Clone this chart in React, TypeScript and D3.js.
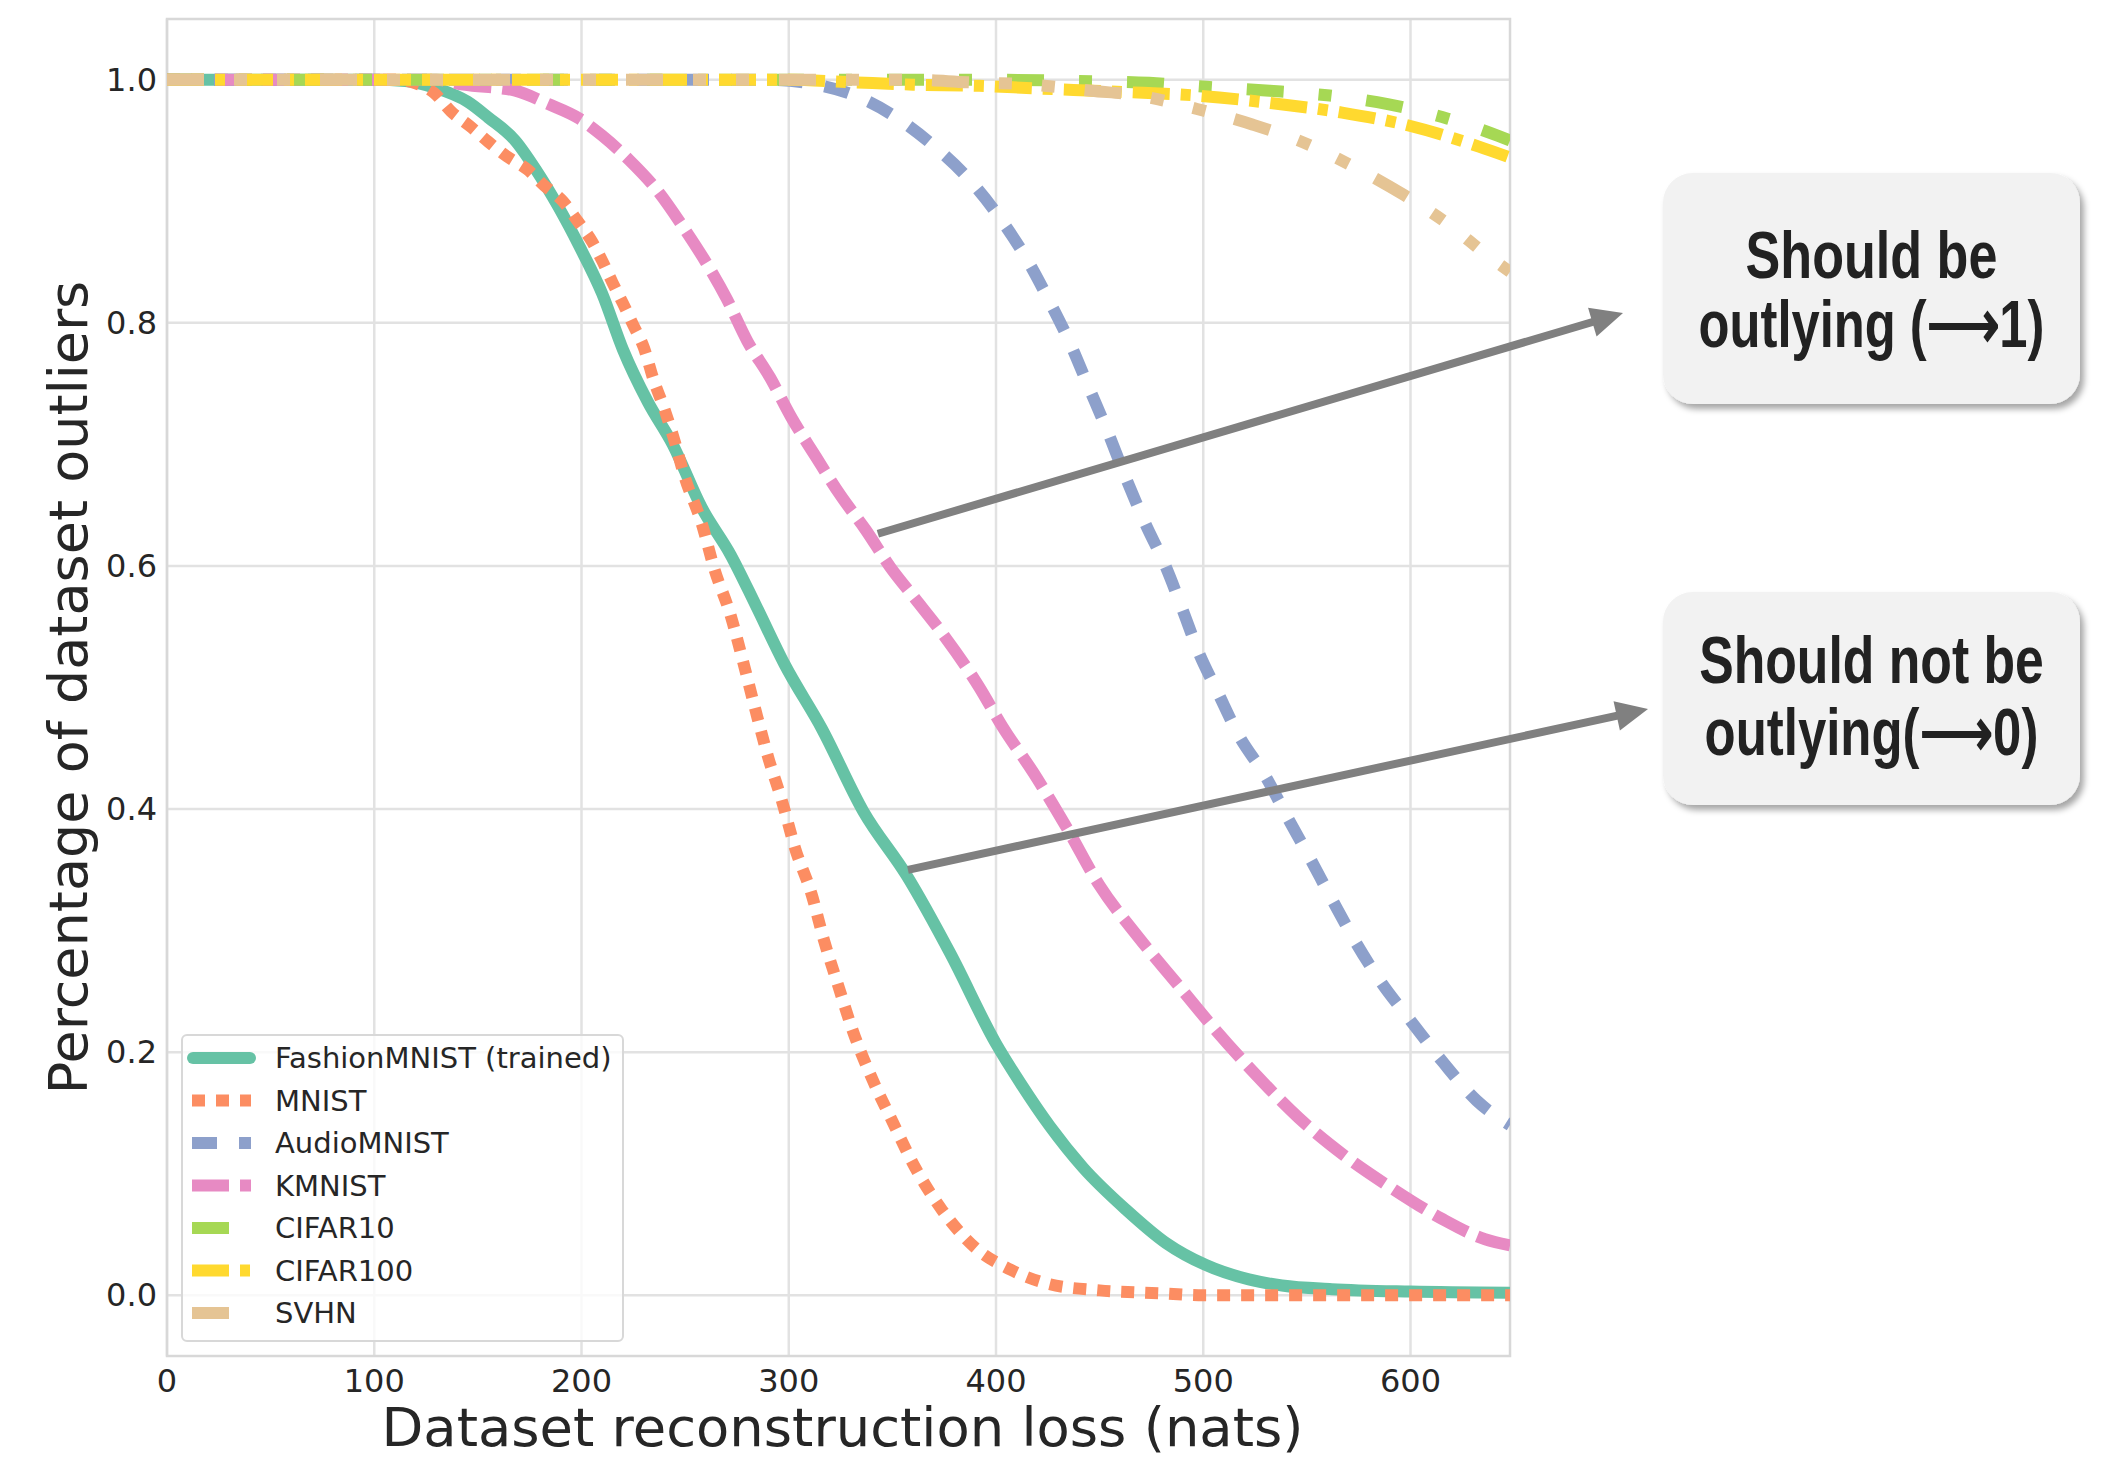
import React from "react";
import * as d3 from "d3";

// curves: [reconstruction loss, fraction of outliers]
const fashionMnist = [
  [0, 1], [100, 1], [115, 0.999], [130, 0.993], [145, 0.982], [155, 0.969], [168, 0.95], [178, 0.926],
  [189, 0.895], [199, 0.863], [210, 0.824], [220, 0.778], [232, 0.735], [244, 0.7], [258, 0.648],
  [272, 0.609], [284, 0.568], [298, 0.519], [316, 0.466], [336, 0.398], [357, 0.345], [378, 0.281],
  [400, 0.207], [412, 0.174], [426, 0.139], [442, 0.105], [463, 0.07], [482, 0.043], [501, 0.025],
  [522, 0.013], [538, 0.008], [562, 0.005], [600, 0.003], [648, 0.002],
];
const mnist = [
  [0, 1], [110, 1], [120, 0.997], [129, 0.989], [137, 0.974], [146, 0.962], [155, 0.949], [164, 0.937],
  [174, 0.926], [182, 0.913], [191, 0.9], [198, 0.884], [205, 0.867], [210, 0.851], [215, 0.833],
  [220, 0.816], [225, 0.798], [230, 0.78], [235, 0.752], [240, 0.729], [244, 0.708], [250, 0.672],
  [258, 0.635], [264, 0.598], [272, 0.559], [278, 0.521], [284, 0.481], [290, 0.443], [297, 0.405],
  [303, 0.368], [311, 0.33], [317, 0.292], [324, 0.254], [331, 0.217], [340, 0.179], [350, 0.143],
  [361, 0.105], [374, 0.07], [390, 0.039], [407, 0.021], [426, 0.009], [450, 0.004], [479, 0.0016],
  [500, 0], [648, 0],
];
const audioMnist = [
  [0, 1], [290, 1], [310, 0.997], [332, 0.987], [351, 0.97], [369, 0.947], [387, 0.918], [402, 0.886],
  [415, 0.852], [426, 0.817], [435, 0.786], [445, 0.746], [454, 0.71], [463, 0.671], [472, 0.635],
  [482, 0.599], [490, 0.564], [498, 0.528], [507, 0.496], [517, 0.461], [530, 0.427], [541, 0.392],
  [551, 0.361], [562, 0.326], [573, 0.292], [586, 0.257], [600, 0.226], [616, 0.191], [632, 0.16],
  [648, 0.14],
];
const kmnist = [
  [0, 1], [130, 1], [143, 0.996], [168, 0.991], [184, 0.98], [199, 0.968], [210, 0.954], [223, 0.934],
  [237, 0.908], [249, 0.879], [260, 0.85], [270, 0.82], [280, 0.785], [291, 0.755], [301, 0.723],
  [313, 0.69], [325, 0.658], [337, 0.63], [349, 0.599], [361, 0.573], [373, 0.547], [392, 0.5],
  [403, 0.468], [418, 0.43], [434, 0.385], [450, 0.337], [469, 0.294], [487, 0.257], [504, 0.222],
  [524, 0.184], [546, 0.146], [568, 0.115], [591, 0.088], [615, 0.063], [636, 0.046], [648, 0.041],
];
const cifar10 = [
  [0, 1], [400, 1], [440, 0.999], [474, 0.9975], [503, 0.994], [532, 0.991], [561, 0.987],
  [589, 0.98], [618, 0.968], [642, 0.954], [648, 0.95],
];
const cifar100 = [
  [0, 1], [300, 1], [330, 0.998], [360, 0.996], [392, 0.995], [418, 0.993], [461, 0.99], [497, 0.987],
  [532, 0.981], [567, 0.973], [600, 0.962], [633, 0.945], [648, 0.936],
];
const svhn = [
  [0, 1], [360, 1], [386, 0.998], [417, 0.996], [446, 0.991], [469, 0.987], [497, 0.976], [524, 0.963],
  [546, 0.95], [572, 0.929], [597, 0.905], [616, 0.884], [639, 0.853], [648, 0.842],
];

const seriesNames = ["FashionMNIST (trained)", "MNIST", "AudioMNIST", "KMNIST", "CIFAR10", "CIFAR100", "SVHN"];
const seriesData = [fashionMnist, mnist, audioMnist, kmnist, cifar10, cifar100, svhn];
const seriesColors = ["#66c2a5", "#fc8d62", "#8da0cb", "#e78ac3", "#a6d854", "#ffd92f", "#e5c494"];
const seriesDashes = ["", "13 11", "25 22", "37 11", "37 35 13 35", "37 11 10 11", "37 30 13 30 13 30"];

const xTicks = [0, 100, 200, 300, 400, 500, 600];
const yTicks = [0, 0.2, 0.4, 0.6, 0.8, 1.0];

// callouts: arrow start in data units, tip in page pixels
const callouts = [
  { lines: ["Should be", "outlying (\u27f61)"], squeeze: [0.778, 0.757], from: [343, 0.6265], tip: [1623, 313], box: [1663, 173, 417, 231], baselines: [278, 347] },
  { lines: ["Should not be", "outlying(\u27f60)"], squeeze: [0.772, 0.76], from: [357.5, 0.35], tip: [1648, 709], box: [1663, 592, 417, 213], baselines: [683, 755] },
];

const W = 2106;
const H = 1458;
const left = 167, right = 1510, top = 19, bottom = 1356;

export default function App() {
  const x = d3.scaleLinear().domain([0, 648]).range([left, right]);
  const y = d3.scaleLinear().domain([-0.05, 1.05]).range([bottom, top]);
  const line = d3
    .line<number[]>()
    .x((d) => x(d[0]))
    .y((d) => y(d[1]))
    .curve(d3.curveMonotoneX);

  const font = "DejaVu Sans, sans-serif";
  const ink = "#262626";

  const arrow = (c) => {
    const x0 = x(c.from[0]);
    const y0 = y(c.from[1]);
    const [tx, ty] = c.tip;
    const len = Math.hypot(tx - x0, ty - y0);
    const ux = (tx - x0) / len;
    const uy = (ty - y0) / len;
    const bx = tx - 32 * ux;
    const by = ty - 32 * uy;
    const px = -uy, py = ux;
    const head = [
      [tx, ty],
      [bx + 15 * px, by + 15 * py],
      [bx - 15 * px, by - 15 * py],
    ];
    return (
      <g>
        <line x1={x0} y1={y0} x2={bx + 2 * ux} y2={by + 2 * uy} stroke="#808080" strokeWidth={8} />
        <polygon points={head.map((p) => p.join(",")).join(" ")} fill="#808080" />
      </g>
    );
  };

  return (
    <svg width={W} height={H} style={{ position: "absolute", left: 0, top: 0, background: "#fff" }}>
      <defs>
        <clipPath id="plot">
          <rect x={left} y={top} width={right - left} height={bottom - top} />
        </clipPath>
        <filter id="shadow" x="-10%" y="-10%" width="125%" height="130%">
          <feDropShadow dx="4" dy="5" stdDeviation="3" floodColor="#000" floodOpacity="0.35" />
        </filter>
      </defs>
      <rect x={0} y={0} width={W} height={H} fill="#fff" />

      {/* grid */}
      <g stroke="#e2e2e2" strokeWidth={2.5}>
        {xTicks.map((t) => (
          <line key={"gx" + t} x1={x(t)} x2={x(t)} y1={top} y2={bottom} />
        ))}
        {yTicks.map((t) => (
          <line key={"gy" + t} x1={left} x2={right} y1={y(t)} y2={y(t)} />
        ))}
      </g>
      <rect x={left} y={top} width={right - left} height={bottom - top} fill="none" stroke="#d8d8d8" strokeWidth={2.5} />

      {/* series */}
      <g clipPath="url(#plot)" fill="none">
        {seriesData.map((d, i) => (
          <path
            key={seriesNames[i]}
            d={line(d) || ""}
            stroke={seriesColors[i]}
            strokeWidth={12}
            strokeDasharray={seriesDashes[i] || undefined}
            strokeLinecap={i === 0 ? "round" : "butt"}
            strokeLinejoin="round"
          />
        ))}
      </g>

      {/* ticks */}
      <g fontFamily={font} fontSize={32} fill={ink}>
        {xTicks.map((t) => (
          <text key={"tx" + t} x={x(t)} y={1392} textAnchor="middle">
            {t}
          </text>
        ))}
        {yTicks.map((t) => (
          <text key={"ty" + t} x={157} y={y(t)} textAnchor="end" dominantBaseline="central">
            {t.toFixed(1)}
          </text>
        ))}
      </g>
      <text x={(left + right) / 2 + 4} y={1446} textAnchor="middle" fontFamily={font} fontSize={53} fill={ink} textLength={922} lengthAdjust="spacingAndGlyphs">
        Dataset reconstruction loss (nats)
      </text>
      <text
        transform={`translate(87,${(top + bottom) / 2}) rotate(-90)`}
        textAnchor="middle"
        fontFamily={font}
        fontSize={54}
        fill={ink}
      >
        Percentage of dataset outliers
      </text>

      {/* legend */}
      <g>
        <rect x={182} y={1035} width={441} height={306} rx={5} fill="#fff" fillOpacity={0.8} stroke="#d8d8d8" strokeWidth={2} />
        {seriesNames.map((n, i) => {
          const cy = 1058 + 42.5 * i;
          return (
            <g key={"lg" + n}>
              <line
                x1={i === 0 ? 193 : 192}
                x2={i === 0 ? 250 : 251}
                y1={cy}
                y2={cy}
                stroke={seriesColors[i]}
                strokeWidth={12}
                strokeDasharray={seriesDashes[i] || undefined}
                strokeLinecap={i === 0 ? "round" : "butt"}
              />
              <text x={275} y={cy} dominantBaseline="central" fontFamily={font} fontSize={29} fill={ink}>
                {n}
              </text>
            </g>
          );
        })}
      </g>

      {/* callouts */}
      {callouts.map((c, i) => (
        <g key={"co" + i}>
          {arrow(c)}
          <rect x={c.box[0]} y={c.box[1]} width={c.box[2]} height={c.box[3]} rx={30} fill="#f2f2f2" filter="url(#shadow)" />
          {c.lines.map((t, j) => (
            <text
              key={j}
              transform={`translate(${c.box[0] + c.box[2] / 2},${c.baselines[j]}) scale(${c.squeeze[j]},1)`}
              textAnchor="middle"
              fontFamily="Liberation Sans, Arial, sans-serif"
              fontWeight="bold"
              fontSize={67}
              fill="#222"
            >
              {t}
            </text>
          ))}
        </g>
      ))}
    </svg>
  );
}
